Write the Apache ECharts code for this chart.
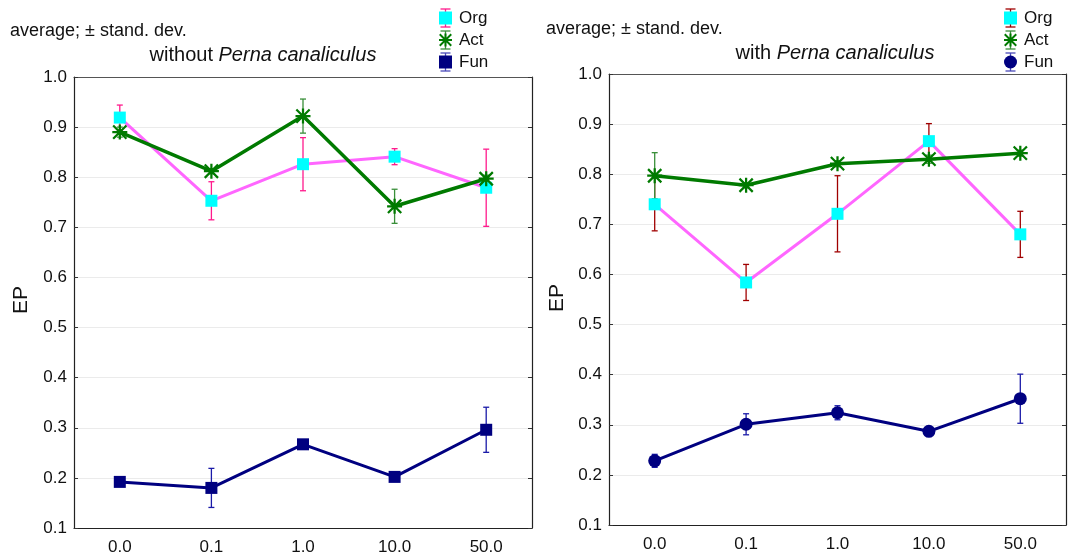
<!DOCTYPE html>
<html>
<head>
<meta charset="utf-8">
<title>EP with and without Perna canaliculus</title>
<script src="https://cdn.jsdelivr.net/npm/echarts@6/dist/echarts.min.js"></script>
<style>
  html, body { margin: 0; padding: 0; background: #fff; }
  #chart { width: 1068px; height: 558px; }
</style>
</head>
<body>
<div id="chart"></div>
<script>
// Concentration categories shared by both panels
const categories = ['0.0', '0.1', '1.0', '10.0', '50.0'];

// Panel 1: without Perna canaliculus (means and standard deviations)
const orgWithout = [0.919, 0.753, 0.826, 0.841, 0.779];
const orgWithoutSd = [0.025, 0.038, 0.053, 0.016, 0.077];
const actWithout = [0.890, 0.812, 0.922, 0.742, 0.797];
const actWithoutSd = [0.010, 0.005, 0.034, 0.034, 0.007];
const funWithout = [0.192, 0.180, 0.267, 0.202, 0.296];
const funWithoutSd = [0.008, 0.039, 0.005, 0.005, 0.045];

// Panel 2: with Perna canaliculus
const orgWith = [0.740, 0.584, 0.721, 0.866, 0.680];
const orgWithSd = [0.053, 0.036, 0.076, 0.035, 0.046];
const actWith = [0.797, 0.778, 0.821, 0.830, 0.842];
const actWithSd = [0.046, 0.005, 0.006, 0.008, 0.006];
const funWith = [0.228, 0.301, 0.324, 0.287, 0.352];
const funWithSd = [0.013, 0.021, 0.014, 0.003, 0.049];

// Y axis range (EP)
const yMin = 0.1, yMax = 1.0, yStep = 0.1;

const FONT = '"Liberation Sans", Arial, sans-serif';
const TEXT = '#111111';
const MAGENTA = '#ff66ff', CYAN = '#00ffff', GREEN = '#007a00', NAVY = '#000080';
// Eight-armed asterisk marker
const STAR = 'path://M8.5,0H11.5V20H8.5Z M0,8.5H20V11.5H0Z M0.1,2.2L2.2,0.1L19.9,17.8L17.8,19.9Z M17.8,0.1L19.9,2.2L2.2,19.9L0.1,17.8Z';

const grids = [
  { left: 74, top: 77, width: 458, height: 451 },
  { left: 609, top: 74, width: 457, height: 451 }
];

function bottomX(gi) {
  return {
    type: 'category', gridIndex: gi, data: categories, boundaryGap: true, position: 'bottom',
    axisLine: { lineStyle: { color: '#222', width: 1.2 } },
    axisTick: { alignWithLabel: true, inside: true, length: 3, lineStyle: { color: '#333' } },
    axisLabel: { fontFamily: FONT, fontSize: 17, color: TEXT, margin: 11 },
    splitLine: { show: false }
  };
}
function topX(gi) {
  return {
    type: 'category', gridIndex: gi, data: categories, boundaryGap: true, position: 'top',
    axisLine: { lineStyle: { color: '#555', width: 1.2 } },
    axisTick: { alignWithLabel: true, inside: true, length: 3, lineStyle: { color: '#333' } },
    axisLabel: { show: false }, splitLine: { show: false }
  };
}
function leftY(gi) {
  return {
    type: 'value', gridIndex: gi, min: yMin, max: yMax, interval: yStep, position: 'left',
    axisLine: { show: true, lineStyle: { color: '#222', width: 1.2 } },
    axisTick: { show: true, inside: true, length: 4, lineStyle: { color: '#333' } },
    axisLabel: { fontFamily: FONT, fontSize: 17, color: TEXT, margin: 7, formatter: v => v.toFixed(1) },
    splitLine: { show: true, lineStyle: { color: '#ebebeb', width: 1 } }
  };
}
function rightY(gi) {
  return {
    type: 'value', gridIndex: gi, min: yMin, max: yMax, interval: yStep, position: 'right',
    axisLine: { show: true, lineStyle: { color: '#222', width: 1.2 } },
    axisTick: { show: true, inside: true, length: 4, lineStyle: { color: '#333' } },
    axisLabel: { show: false }, splitLine: { show: false }
  };
}

// Error bar (mean ± sd) drawn through the axes with a custom series
function errorSeries(name, means, sds, color, gi) {
  return {
    type: 'custom', name: name + ' sd', xAxisIndex: gi * 2, yAxisIndex: gi * 2, z: 2,
    silent: true,
    encode: { x: 0, y: [1, 2] },
    data: means.map((m, i) => [i, m - sds[i], m + sds[i]]),
    renderItem: function (params, api) {
      const i = api.value(0);
      const hi = api.coord([i, api.value(2)]);
      const lo = api.coord([i, api.value(1)]);
      const cap = 3;
      const style = { stroke: color, lineWidth: 1.3 };
      return {
        type: 'group',
        children: [
          { type: 'line', shape: { x1: hi[0], y1: hi[1], x2: lo[0], y2: lo[1] }, style: style },
          { type: 'line', shape: { x1: hi[0] - cap, y1: hi[1], x2: hi[0] + cap, y2: hi[1] }, style: style },
          { type: 'line', shape: { x1: lo[0] - cap, y1: lo[1], x2: lo[0] + cap, y2: lo[1] }, style: style }
        ]
      };
    }
  };
}

function lineSeries(name, values, lineColor, symbol, symbolColor, size, width, gi) {
  return {
    type: 'line', name: name, xAxisIndex: gi * 2, yAxisIndex: gi * 2, z: 3,
    data: values, symbol: symbol, symbolSize: size, showAllSymbols: true,
    lineStyle: { color: lineColor, width: width },
    itemStyle: { color: symbolColor, opacity: 1 },
    emphasis: { disabled: true }, animation: false
  };
}

function legend(left, funIcon) {
  return {
    orient: 'vertical', left: left, top: 9.5, padding: 0,
    itemWidth: 13, itemHeight: 13, itemGap: 5,
    selectedMode: false,
    textStyle: { fontFamily: FONT, fontSize: 17, color: TEXT, padding: [0, 0, 0, 2] },
    data: [
      { name: 'Org', icon: 'rect', itemStyle: { color: CYAN } },
      { name: 'Act', icon: STAR, itemStyle: { color: GREEN } },
      { name: 'Fun', icon: funIcon, itemStyle: { color: NAVY } }
    ]
  };
}

function titleEl(x, y, plain, italic) {
  return {
    type: 'text', x: x, y: y,
    style: {
      text: '{n|' + plain + '}{i|' + italic + '}', textAlign: 'center', textVerticalAlign: 'middle',
      rich: {
        n: { fontFamily: FONT, fontSize: 20, fill: TEXT },
        i: { fontFamily: FONT, fontSize: 20, fontStyle: 'italic', fill: TEXT }
      }
    }
  };
}

function plainText(x, y, text, size, align, rotation) {
  return {
    type: 'text', x: x, y: y, rotation: rotation || 0,
    style: { text: text, fontFamily: FONT, fontSize: size, fill: TEXT, textAlign: align, textVerticalAlign: 'middle' }
  };
}

// Small error-bar whiskers behind each legend icon
function legendWhiskers(cx, colors) {
  const ys = [18, 40, 62];
  const out = [];
  ys.forEach((y, k) => {
    const st = { stroke: colors[k], lineWidth: 1.3 };
    out.push({ type: 'line', z: -1, shape: { x1: cx, y1: y - 9, x2: cx, y2: y + 9 }, style: st });
    out.push({ type: 'line', z: -1, shape: { x1: cx - 5, y1: y - 9, x2: cx + 5, y2: y - 9 }, style: st });
    out.push({ type: 'line', z: -1, shape: { x1: cx - 5, y1: y + 9, x2: cx + 5, y2: y + 9 }, style: st });
  });
  return out;
}

const chart = echarts.init(document.getElementById('chart'), null, { renderer: 'canvas' });

const option = {
  backgroundColor: '#ffffff',
  animation: false,
  grid: grids,
  xAxis: [bottomX(0), topX(0), bottomX(1), topX(1)],
  yAxis: [leftY(0), rightY(0), leftY(1), rightY(1)],
  legend: [legend(439, 'rect'), legend(1004, 'circle')],
  series: [
    errorSeries('Org', orgWithout, orgWithoutSd, '#ff1a8c', 0),
    errorSeries('Act', actWithout, actWithoutSd, '#3a8f3a', 0),
    errorSeries('Fun', funWithout, funWithoutSd, '#1a1aa8', 0),
    lineSeries('Org', orgWithout, MAGENTA, 'rect', CYAN, 12, 3, 0),
    lineSeries('Act', actWithout, GREEN, STAR, GREEN, 15, 3.5, 0),
    lineSeries('Fun', funWithout, NAVY, 'rect', NAVY, 12, 3, 0),

    errorSeries('Org', orgWith, orgWithSd, '#a00000', 1),
    errorSeries('Act', actWith, actWithSd, '#3a8f3a', 1),
    errorSeries('Fun', funWith, funWithSd, '#1a1aa8', 1),
    lineSeries('Org', orgWith, MAGENTA, 'rect', CYAN, 12, 3, 1),
    lineSeries('Act', actWith, GREEN, STAR, GREEN, 15, 3.5, 1),
    lineSeries('Fun', funWith, NAVY, 'circle', NAVY, 13, 3, 1)
  ],
  graphic: [
    plainText(10, 31, 'average; \u00b1 stand. dev.', 18, 'left'),
    plainText(546, 29, 'average; \u00b1 stand. dev.', 18, 'left'),
    titleEl(263, 55, 'without ', 'Perna canaliculus'),
    titleEl(835, 53, 'with ', 'Perna canaliculus'),
    plainText(21, 300, 'EP', 21, 'center', Math.PI / 2),
    plainText(557, 298, 'EP', 21, 'center', Math.PI / 2)
  ].concat(
    legendWhiskers(445.5, ['#ff1a8c', '#3a8f3a', '#4a4ab8']),
    legendWhiskers(1010.5, ['#a00000', '#3a8f3a', '#4a4ab8'])
  )
};

chart.setOption(option);
</script>
</body>
</html>
